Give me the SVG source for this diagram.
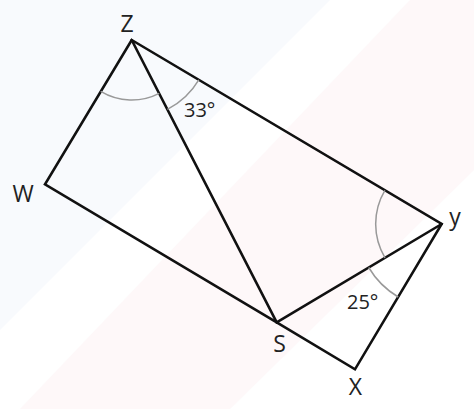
<svg xmlns="http://www.w3.org/2000/svg" width="474" height="409" viewBox="0 0 474 409">
  <style>
    .edge { stroke: #111; stroke-width: 2.6; fill: none; stroke-linejoin: miter; stroke-linecap: round; }
    .arc { stroke: #999; stroke-width: 1.5; fill: none; }
    .lbl { font-family: "Open Sans", "Liberation Sans", sans-serif; font-size: 23px; fill: #222; text-anchor: middle; }
    .ang { font-family: "Open Sans", "Liberation Sans", sans-serif; font-size: 20px; fill: #222; }
  </style>
  <rect width="474" height="409" fill="#ffffff"/>
  <g id="watermark">
    <polygon points="0,0 330,0 0,330" fill="#f8fafd"/>
    <polygon points="20,409 230,409 474,170 474,0 410,0" fill="#fef8f9"/>
  </g>
  <g id="connectors">
    <polygon class="edge" points="131.7,40 441.7,224 355,369.3 276.7,322.3 45,184.3"/>
    <line class="edge" x1="131.7" y1="40" x2="276.7" y2="322.3"/>
    <line class="edge" x1="276.7" y1="322.3" x2="441.7" y2="224"/>
  </g>
  <g id="angle-marks">
    <path class="arc" d="M100.7,91.4 A60,60 0 0 0 159.2,93.3"/>
    <path class="arc" d="M167.4,109.3 A78,78 0 0 0 198.8,79.8"/>
    <path class="arc" d="M384.9,190.3 A66,66 0 0 0 385,257.8"/>
    <path class="arc" d="M368.7,267.5 A85,85 0 0 0 398.2,297"/>
    <text class="ang" x="184" y="117">33°</text>
    <text class="ang" x="347" y="309">25°</text>
  </g>
  <g id="node-Z"><text class="lbl" x="127" y="32">Z</text></g>
  <g id="node-W"><text class="lbl" x="23" y="202">W</text></g>
  <g id="node-S"><text class="lbl" x="279.5" y="352">S</text></g>
  <g id="node-X"><text class="lbl" x="355.5" y="395">X</text></g>
  <g id="node-Y"><text class="lbl" x="455" y="225">y</text></g>
</svg>
